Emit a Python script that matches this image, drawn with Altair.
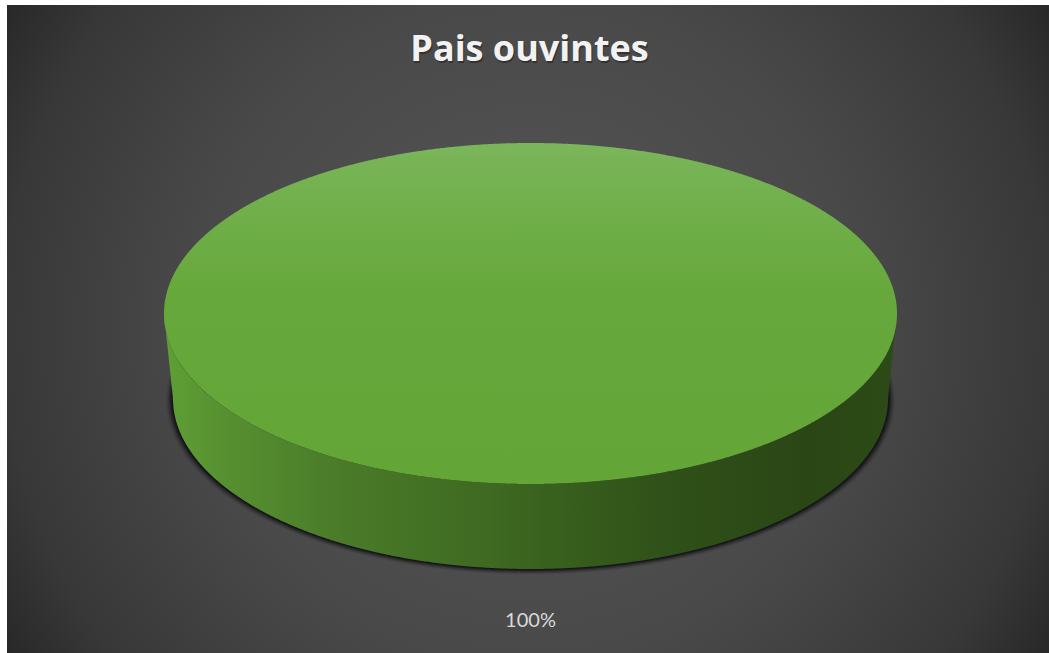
import altair as alt
import numpy as np
import pandas as pd

# Chart values
title_text = "Pais ouvintes"
shares = [100]
share_labels = [f"{s}%" for s in shares]

# Disc proportions, in units of the top face's radii
WALL_DEPTH = 0.4985
BASE_RATIO = 0.9755
WIDTH, HEIGHT = 1049, 653
RX_PX, RY_PX = 366.5, 170.5
CX_PX, CY_PX = 530.5, 313.5

x_scale = alt.Scale(domain=[-CX_PX / RX_PX, (WIDTH - CX_PX) / RX_PX], nice=False, zero=False)
y_scale = alt.Scale(domain=[(CY_PX - HEIGHT) / RY_PX, CY_PX / RY_PX], nice=False, zero=False)


def half_turn(share):
    # The slice sweeps the share of a full turn; each half of the disc covers half the sweep
    return np.linspace(0, np.pi * share / 100, 721)


t = half_turn(shares[0])
xs = -np.cos(t)
top_upper = np.sqrt(np.clip(1 - xs**2, 0, 1))

face = pd.DataFrame({"x": xs, "y": top_upper, "y2": -top_upper})

base_arc = np.sqrt(np.clip(1 - (xs / BASE_RATIO) ** 2, 0, 1))
tip = (1 - np.abs(xs)) / (1 - BASE_RATIO)
wall_bottom = np.where(np.abs(xs) <= BASE_RATIO, WALL_DEPTH + base_arc, WALL_DEPTH * tip)
wall = pd.DataFrame({"x": xs, "y": -top_upper, "y2": -wall_bottom})


def shadow_frame(grow, drop):
    rx = BASE_RATIO + grow
    xt = xs * rx
    arc = np.sqrt(np.clip(1 - (xt / rx) ** 2, 0, 1)) * (1 + grow)
    return pd.DataFrame({"x": xt, "y": -(WALL_DEPTH + drop) + arc, "y2": -(WALL_DEPTH + drop) - arc})


X = alt.X("x:Q", scale=x_scale, axis=None)
Y = alt.Y("y:Q", scale=y_scale, axis=None)
Y2 = alt.Y2("y2:Q")

# Dark panel with a soft glow in the middle
panel = (
    alt.Chart(pd.DataFrame({"a": [0]}))
    .mark_rect(
        color=alt.Gradient(
            gradient="radial",
            x1=0.5, y1=0.5, r1=0,
            x2=0.5, y2=0.5, r2=0.6,
            stops=[
                alt.GradientStop(color="#575757", offset=0),
                alt.GradientStop(color="#494949", offset=0.53),
                alt.GradientStop(color="#454545", offset=0.61),
                alt.GradientStop(color="#383838", offset=0.84),
                alt.GradientStop(color="#262626", offset=1),
            ],
        )
    )
    .encode(x=alt.value(7), x2=alt.value(WIDTH), y=alt.value(5), y2=alt.value(HEIGHT))
)

# Soft shadow under the disc, built from stacked translucent ellipses
shadow_layers = [
    alt.Chart(shadow_frame(grow, drop))
    .mark_area(color="#0a0a10", opacity=op)
    .encode(x=X, y=Y, y2=Y2)
    for grow, drop, op in [
        (0.0190, 0.0130, 0.07),
        (0.0160, 0.0110, 0.10),
        (0.0130, 0.0090, 0.14),
        (0.0100, 0.0070, 0.20),
        (0.0070, 0.0050, 0.32),
        (0.0040, 0.0030, 0.50),
    ]
]

wall_layer = (
    alt.Chart(wall)
    .mark_area(
        color=alt.Gradient(
            gradient="linear",
            x1=0, y1=0, x2=1, y2=0,
            stops=[
                alt.GradientStop(color="#5f9f36", offset=0),
                alt.GradientStop(color="#568f30", offset=0.09),
                alt.GradientStop(color="#4a7b29", offset=0.24),
                alt.GradientStop(color="#3e6a21", offset=0.44),
                alt.GradientStop(color="#305119", offset=0.68),
                alt.GradientStop(color="#2a4615", offset=0.88),
                alt.GradientStop(color="#2c4b16", offset=1),
            ],
        )
    )
    .encode(x=X, y=Y, y2=Y2)
)

face_layer = (
    alt.Chart(face)
    .mark_area(
        color=alt.Gradient(
            gradient="linear",
            x1=0, y1=0, x2=0, y2=1,
            stops=[
                alt.GradientStop(color="#7bb65b", offset=0),
                alt.GradientStop(color="#70af4a", offset=0.2),
                alt.GradientStop(color="#67a83c", offset=0.45),
                alt.GradientStop(color="#64a538", offset=1),
            ],
        )
    )
    .encode(x=X, y=Y, y2=Y2)
)

title_shadow = (
    alt.Chart(pd.DataFrame({"t": [title_text]}))
    .mark_text(font="Open Sans", fontWeight="bold", fontSize=36, color="#1c1c1c", opacity=0.5, align="center", baseline="alphabetic")
    .encode(x=alt.value(530.5), y=alt.value(63), text="t:N")
)
title_layer = (
    alt.Chart(pd.DataFrame({"t": [title_text]}))
    .mark_text(font="Open Sans", fontWeight="bold", fontSize=36, color="#f2f2f2", align="center", baseline="alphabetic")
    .encode(x=alt.value(529.5), y=alt.value(61), text="t:N")
)

label_layer = (
    alt.Chart(pd.DataFrame({"t": share_labels}))
    .mark_text(font="Lato", fontSize=20, color="#d9d9d9", align="center", baseline="alphabetic")
    .encode(x=alt.value(530.5), y=alt.value(627), text="t:N")
)

chart = (
    alt.layer(panel, *shadow_layers, wall_layer, face_layer, title_shadow, title_layer, label_layer)
    .properties(width=WIDTH, height=HEIGHT, padding=0, background="#ffffff", autosize=alt.AutoSizeParams(type="none"))
    .configure_view(strokeWidth=0)
)

chart.save("out.html", embed_options={"renderer": "svg", "actions": False})
